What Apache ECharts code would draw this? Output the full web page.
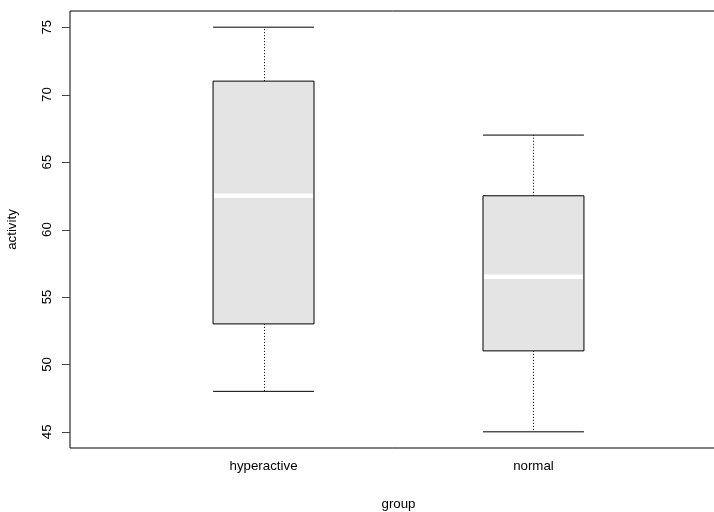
<!DOCTYPE html>
<html>
<head>
<meta charset="utf-8">
<script src="https://cdn.jsdelivr.net/npm/echarts@6/dist/echarts.min.js"></script>
<style>
  html, body { margin: 0; padding: 0; background: #ffffff; }
  #chart { width: 714px; height: 512px; }
</style>
</head>
<body>
<div id="chart"></div>
<script>
// Activity scores by group: five-number summaries per box
const categories = ['hyperactive', 'normal'];
const whiskerLow = [48, 45];
const lowerQuartile = [53, 51];
const medians = [62.5, 56.5];
const upperQuartile = [71, 62.5];
const whiskerHigh = [75, 67];
const yTicks = [45, 50, 55, 60, 65, 70, 75];

const FONT = 'Liberation Sans, Arial, sans-serif';
const BOX_HALF = 0.187;
const X_MIN = 0.283;
const X_MAX = 2.717;
const TICK_LEN = 8;

const boxData = categories.map((c, i) => [
  i + 1, whiskerLow[i], lowerQuartile[i], medians[i], upperQuartile[i], whiskerHigh[i]
]);

function renderBox(params, api) {
  const x = api.value(0);
  const pLow = api.coord([x, api.value(1)]);
  const pQ1 = api.coord([x, api.value(2)]);
  const pMed = api.coord([x, api.value(3)]);
  const pQ3 = api.coord([x, api.value(4)]);
  const pHigh = api.coord([x, api.value(5)]);
  const left = api.coord([x - BOX_HALF, 0])[0];
  const right = api.coord([x + BOX_HALF, 0])[0];
  const cx = Math.round(pMed[0]) + 0.5;
  const dotted = { stroke: '#000', lineWidth: 1, lineDash: [1, 2] };
  const solid = { stroke: '#000', lineWidth: 1 };
  return {
    type: 'group',
    children: [
      { type: 'line', shape: { x1: cx, y1: pQ3[1], x2: cx, y2: pHigh[1] }, style: dotted },
      { type: 'line', shape: { x1: cx, y1: pQ1[1], x2: cx, y2: pLow[1] }, style: dotted },
      { type: 'line', shape: { x1: left, y1: pHigh[1], x2: right, y2: pHigh[1] }, style: solid },
      { type: 'line', shape: { x1: left, y1: pLow[1], x2: right, y2: pLow[1] }, style: solid },
      {
        type: 'rect',
        shape: { x: left, y: pQ3[1], width: right - left, height: pQ1[1] - pQ3[1] },
        style: { fill: '#e4e4e4', stroke: '#000', lineWidth: 1 }
      },
      {
        type: 'line',
        shape: { x1: left + 1, y1: pMed[1], x2: right - 1, y2: pMed[1] },
        style: { stroke: '#ffffff', lineWidth: 4.5 }
      }
    ]
  };
}

// outward tick marks on the left side of the frame at each labelled value
function renderTick(params, api) {
  const p = api.coord([api.value(0), api.value(1)]);
  const y = Math.round(p[1]) + 0.5;
  return {
    type: 'line',
    shape: { x1: p[0] - TICK_LEN, y1: y, x2: p[0], y2: y },
    style: { stroke: '#444', lineWidth: 1 }
  };
}

const chart = echarts.init(document.getElementById('chart'), null, { renderer: 'canvas' });
chart.setOption({
  animation: false,
  backgroundColor: '#ffffff',
  grid: {
    left: 70, top: 11, bottom: 64, right: -13,
    containLabel: false,
    outerBoundsMode: 'none',
    show: true, borderColor: '#000', borderWidth: 1, backgroundColor: 'transparent'
  },
  xAxis: {
    type: 'value',
    min: X_MIN, max: X_MAX,
    name: 'group',
    nameLocation: 'middle',
    nameGap: 50,
    nameTextStyle: { fontFamily: FONT, fontSize: 13.3, color: '#000' },
    axisLine: { show: false },
    axisTick: { show: false },
    splitLine: { show: false },
    axisLabel: {
      customValues: categories.map((c, i) => i + 1),
      formatter: v => categories[Math.round(v) - 1],
      fontFamily: FONT, fontSize: 13.3, color: '#000', margin: 12
    }
  },
  yAxis: {
    type: 'value',
    min: 43.8, max: 76.2,
    name: 'activity',
    nameLocation: 'middle',
    nameRotate: 90,
    nameGap: 51,
    nameTextStyle: { fontFamily: FONT, fontSize: 13.3, color: '#000' },
    axisLine: { show: false },
    axisTick: { show: false },
    splitLine: { show: false },
    axisLabel: {
      customValues: yTicks,
      rotate: 90,
      fontFamily: FONT, fontSize: 13.3, color: '#000', margin: 16
    }
  },
  series: [{
    type: 'custom',
    renderItem: renderBox,
    data: boxData,
    encode: { x: 0, y: [1, 2, 3, 4, 5] },
    clip: false
  }, {
    type: 'custom',
    renderItem: renderTick,
    data: yTicks.map(v => [X_MIN, v]),
    encode: { x: 0, y: 1 },
    clip: false,
    silent: true,
    z: 10
  }]
});
</script>
</body>
</html>
